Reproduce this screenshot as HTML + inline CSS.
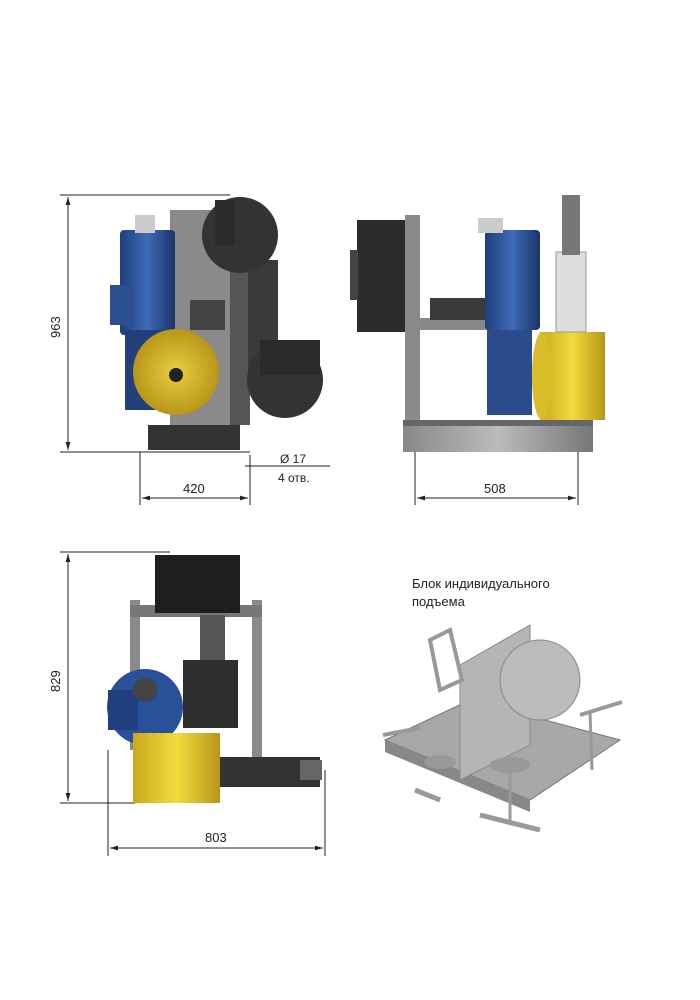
<!DOCTYPE html>
<html><head><meta charset="utf-8"><style>
html,body{margin:0;padding:0;background:#fff;}
svg{display:block}
text{font-family:"Liberation Sans","DejaVu Sans",sans-serif;fill:#222}
</style></head><body>
<svg width="700" height="1000" viewBox="0 0 700 1000" xmlns="http://www.w3.org/2000/svg">
<defs>
<marker id="a" viewBox="0 0 10 10" refX="10" refY="5" markerWidth="8" markerHeight="8" orient="auto-start-reverse"><path d="M0,2 L10,5 L0,8 z" fill="#222"/></marker>
<linearGradient id="blue" x1="0" x2="1"><stop offset="0" stop-color="#1d3f7a"/><stop offset=".5" stop-color="#3f6bb8"/><stop offset="1" stop-color="#1a3466"/></linearGradient>
<radialGradient id="yel"><stop offset="0" stop-color="#e8d040"/><stop offset="1" stop-color="#b8961a"/></radialGradient>
<linearGradient id="ydrum" x1="0" x2="1"><stop offset="0" stop-color="#c9a81c"/><stop offset=".5" stop-color="#f2dc3c"/><stop offset="1" stop-color="#b8951a"/></linearGradient>
<linearGradient id="grey" x1="0" x2="1"><stop offset="0" stop-color="#888"/><stop offset=".5" stop-color="#bbb"/><stop offset="1" stop-color="#777"/></linearGradient>
</defs>

<!-- ===== View 1 ===== -->
<g stroke="#222" stroke-width="1" fill="none">
<line x1="60" y1="195" x2="230" y2="195"/>
<line x1="60" y1="452" x2="250" y2="452"/>
<line x1="68" y1="197" x2="68" y2="450" marker-start="url(#a)" marker-end="url(#a)"/>
<line x1="140" y1="452" x2="140" y2="505"/>
<line x1="250" y1="455" x2="250" y2="505"/>
<line x1="142" y1="498" x2="248" y2="498" marker-start="url(#a)" marker-end="url(#a)"/>
<line x1="245" y1="466" x2="330" y2="466"/>
</g>
<text x="0" y="0" font-size="13" transform="translate(60,338) rotate(-90)">963</text>
<text x="183" y="493" font-size="13">420</text>
<text x="280" y="463" font-size="12">Ø 17</text>
<text x="278" y="482" font-size="12">4 отв.</text>

<rect x="170" y="210" width="80" height="215" fill="#8a8a8a"/>
<rect x="230" y="250" width="20" height="175" fill="#555"/>
<rect x="248" y="260" width="30" height="110" fill="#3a3a3a"/>
<circle cx="240" cy="235" r="38" fill="#333"/>
<rect x="215" y="200" width="20" height="45" fill="#2b2b2b"/>
<circle cx="285" cy="380" r="38" fill="#333"/>
<rect x="260" y="340" width="60" height="35" fill="#2a2a2a"/>
<rect x="120" y="230" width="55" height="105" rx="4" fill="url(#blue)"/>
<rect x="135" y="215" width="20" height="18" fill="#ccc"/>
<rect x="110" y="285" width="25" height="40" fill="#2c4f91"/>
<rect x="125" y="330" width="40" height="80" fill="#223f78"/>
<circle cx="176" cy="372" r="43" fill="url(#yel)"/>
<circle cx="176" cy="375" r="7" fill="#222"/>
<rect x="190" y="300" width="35" height="30" fill="#444"/>
<rect x="148" y="425" width="92" height="25" fill="#333"/>

<!-- ===== View 2 ===== -->
<g stroke="#222" stroke-width="1" fill="none">
<line x1="415" y1="452" x2="415" y2="505"/>
<line x1="578" y1="452" x2="578" y2="505"/>
<line x1="417" y1="498" x2="576" y2="498" marker-start="url(#a)" marker-end="url(#a)"/>
</g>
<text x="484" y="493" font-size="13">508</text>
<rect x="357" y="220" width="55" height="112" fill="#2c2c2c"/>
<rect x="350" y="250" width="8" height="50" fill="#444"/>
<rect x="405" y="215" width="15" height="212" fill="#8a8a8a"/>
<rect x="420" y="318" width="70" height="12" fill="#888"/>
<rect x="430" y="298" width="55" height="22" fill="#3a3a3a"/>
<rect x="485" y="230" width="55" height="100" rx="4" fill="url(#blue)"/>
<rect x="478" y="218" width="25" height="15" fill="#ccc"/>
<rect x="487" y="330" width="45" height="85" fill="#2a4c8c"/>
<rect x="540" y="332" width="65" height="88" fill="url(#ydrum)"/>
<ellipse cx="542" cy="376" rx="10" ry="44" fill="#d8bc2a"/>
<rect x="556" y="252" width="30" height="80" fill="#ddd" stroke="#999"/>
<rect x="562" y="195" width="18" height="60" fill="#777"/>
<rect x="403" y="420" width="190" height="32" fill="url(#grey)"/>
<rect x="403" y="420" width="190" height="6" fill="#666"/>

<!-- ===== View 3 ===== -->
<g stroke="#222" stroke-width="1" fill="none">
<line x1="60" y1="552" x2="170" y2="552"/>
<line x1="60" y1="803" x2="135" y2="803"/>
<line x1="68" y1="554" x2="68" y2="801" marker-start="url(#a)" marker-end="url(#a)"/>
<line x1="108" y1="750" x2="108" y2="856"/>
<line x1="325" y1="770" x2="325" y2="856"/>
<line x1="110" y1="848" x2="323" y2="848" marker-start="url(#a)" marker-end="url(#a)"/>
</g>
<text x="0" y="0" font-size="13" transform="translate(60,692) rotate(-90)">829</text>
<text x="205" y="842" font-size="13">803</text>
<rect x="130" y="600" width="10" height="150" fill="#8a8a8a"/>
<rect x="252" y="600" width="10" height="160" fill="#8a8a8a"/>
<rect x="130" y="605" width="132" height="12" fill="#777"/>
<rect x="155" y="555" width="85" height="58" fill="#1e1e1e"/>
<rect x="200" y="615" width="25" height="45" fill="#555"/>
<rect x="183" y="660" width="55" height="68" fill="#2e2e2e"/>
<circle cx="145" cy="707" r="38" fill="#2a5099"/>
<rect x="108" y="690" width="30" height="40" fill="#1f3f7e"/>
<circle cx="145" cy="690" r="12" fill="#444"/>
<rect x="133" y="733" width="87" height="70" fill="url(#ydrum)"/>
<rect x="220" y="757" width="100" height="30" fill="#333"/>
<rect x="300" y="760" width="22" height="20" fill="#666"/>

<!-- ===== Photo ===== -->
<text x="412" y="588" font-size="13">Блок  индивидуального</text>
<text x="412" y="606" font-size="13">подъема</text>
<polygon points="385,740 470,700 620,740 530,800" fill="#a8a8a8" stroke="#777"/>
<polygon points="385,740 530,800 530,812 385,752" fill="#888"/>
<polygon points="460,665 530,625 530,745 460,780" fill="#b5b5b5" stroke="#888"/>
<circle cx="540" cy="680" r="40" fill="#bbb" stroke="#888"/>
<path d="M430,640 L450,630 L462,680 L440,690 Z" fill="none" stroke="#999" stroke-width="4"/>
<line x1="580" y1="715" x2="622" y2="702" stroke="#999" stroke-width="4"/>
<line x1="590" y1="712" x2="592" y2="770" stroke="#999" stroke-width="3"/>
<line x1="383" y1="735" x2="420" y2="728" stroke="#999" stroke-width="4"/>
<line x1="480" y1="815" x2="540" y2="830" stroke="#999" stroke-width="5"/>
<line x1="510" y1="770" x2="510" y2="822" stroke="#999" stroke-width="3"/>
<ellipse cx="510" cy="765" rx="20" ry="8" fill="#999"/>
<ellipse cx="440" cy="762" rx="16" ry="7" fill="#999"/>
<line x1="415" y1="790" x2="440" y2="800" stroke="#999" stroke-width="5"/>
</svg>
</body></html>
